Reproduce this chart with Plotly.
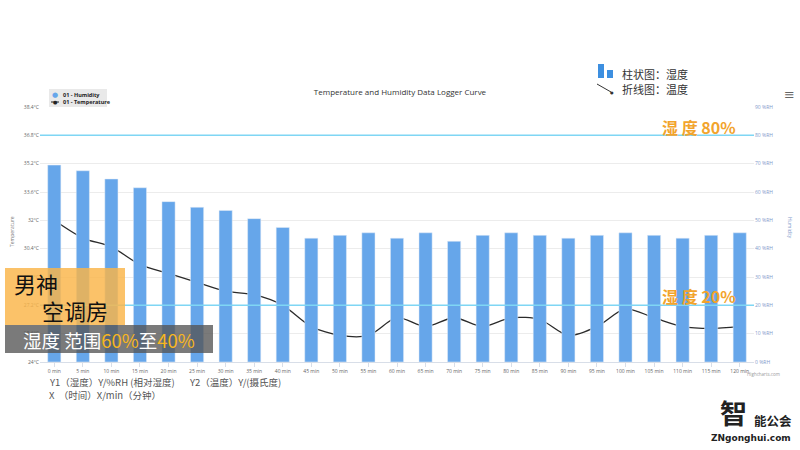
import plotly.graph_objects as go

# ---------------- data ----------------
times = [f"{m} min" for m in range(0, 121, 5)]
humidity = [69.5, 67.5, 64.6, 61.5, 56.6, 54.6, 53.5, 50.6, 47.5, 43.7, 44.7, 45.6, 43.7,
            45.6, 42.6, 44.7, 45.6, 44.7, 43.7, 44.7, 45.6, 44.7, 43.7, 44.7, 45.6]
temperature = [32.0, 31.0, 30.5, 29.5, 29.0, 28.5, 28.0, 27.8, 27.2, 26.0, 25.5, 25.5, 26.5,
               26.0, 26.5, 26.0, 26.5, 26.4, 25.5, 26.0, 27.0, 26.5, 26.0, 25.9, 26.0]
temp_ticks = [24, 25.6, 27.2, 28.8, 30.4, 32, 33.6, 35.2, 36.8, 38.4]
temp_ticktext = ["24°C", "25.6°C", "27.2°C", "28.8°C", "30.4°C", "32°C", "33.6°C", "35.2°C", "36.8°C", "38.4°C"]
hum_ticks = [0, 10, 20, 30, 40, 50, 60, 70, 80, 90]
hum_ticktext = ["0 %RH", "10 %RH", "20 %RH", "30 %RH", "40 %RH", "50 %RH", "60 %RH", "70 %RH", "80 %RH", "90 %RH"]
thresholds = [80, 20]
series_names = ["01 - Humidity", "01 - Temperature"]

# ---------------- layout geometry (pixels) ----------------
W, H = 800, 450
L, R, T, B = 40, 754, 107, 362


def P(x, y):
    """pixel -> paper coords"""
    return (x - L) / (R - L), (B - y) / (B - T)


BAR = "#66a6ea"
ORANGE = "#f2a42c"
CJK = "Noto Sans CJK SC"

fig = go.Figure()
fig.add_trace(go.Bar(x=times, y=humidity, yaxis="y2", marker_color=BAR, width=0.46,
                     name=series_names[0], showlegend=False))
fig.add_trace(go.Scatter(x=times, y=temperature, mode="lines+markers", name=series_names[1],
                         line=dict(color="#2b2b2b", width=1.3, shape="spline", smoothing=0.8),
                         marker=dict(color="#1f2a3a", size=4), showlegend=False))

shapes = []
for th in thresholds:
    shapes.append(dict(type="line", xref="paper", yref="y2", x0=0, x1=1, y0=th, y1=th,
                       line=dict(color="#7fd6f4", width=1.5), layer="above"))


def rect(x0, y0, x1, y1, color, layer="above"):
    a, b = P(x0, y1)
    c, d = P(x1, y0)
    return dict(type="rect", xref="paper", yref="paper", x0=a, y0=b, x1=c, y1=d,
                fillcolor=color, line=dict(width=0), layer=layer)


def seg(x0, y0, x1, y1, color, width=1):
    a, b = P(x0, y0)
    c, d = P(x1, y1)
    return dict(type="line", xref="paper", yref="paper", x0=a, y0=b, x1=c, y1=d,
                line=dict(color=color, width=width))


shapes.append(rect(5, 268, 125, 325, "rgba(250,180,72,0.82)"))
shapes.append(rect(5, 325, 213, 353, "rgba(85,85,85,0.78)"))
# series legend box (top-left)
shapes.append(rect(49, 89, 107, 107, "#e9e9e9"))
shapes.append(seg(51, 102, 59, 102, "#222", 1))
# chinese legend icons
shapes.append(rect(598, 64, 604, 78, "#3d8fe0"))
shapes.append(rect(607, 70, 613, 78, "#3d8fe0"))
shapes.append(seg(597, 84, 611, 92, "#333", 1))

ann = []


def text(x, y, s, size, color="#333", anchor="left", bold=False, angle=0, family=CJK, v="middle"):
    px, py = P(x, y)
    if bold:
        s = f"<b>{s}</b>"
    ann.append(dict(x=px, y=py, xref="paper", yref="paper", text=s, showarrow=False,
                    xanchor=anchor, yanchor=v, textangle=angle,
                    font=dict(size=size, color=color, family=family)))


# series legend entries
text(55, 95, "●", 7, BAR, anchor="center", family="DejaVu Sans")
text(55, 102, "●", 5, "#222", anchor="center", family="DejaVu Sans")
text(61, 95, series_names[0], 5.5, "#222", bold=True, family="Open Sans")
text(61, 102, series_names[1], 5.5, "#222", bold=True, family="Open Sans")

text(620, 74, "柱状图：湿度", 11, "#333")
text(620, 89, "折线图：温度", 11, "#333")
text(612, 92, "●", 4, "#333", anchor="center", family="DejaVu Sans")
text(699, 127, "湿 度 80%", 16, ORANGE, anchor="center", bold=True)
text(699, 296, "湿 度 20%", 16, ORANGE, anchor="center", bold=True)
text(12, 283, "男神", 22, "#111")
text(40, 310, "空调房", 22, "#111")
text(21, 340, "湿度 范围<span style='color:#f7b520'>60%</span>至<span style='color:#f7b520'>40%</span>",
     18.5, "#ffffff")
text(47, 382, "Y1（湿度）Y/%RH (相对湿度)", 9.5, "#555")
text(187, 382, "Y2（温度）Y/(摄氏度)", 9.5, "#555")
text(47, 395, "X  （时间）X/min（分钟）", 9.5, "#555")
text(12, 232, "Temperature", 5, "#777", anchor="center", angle=-90, family="Open Sans")
text(790, 228, "Humidity", 5, "#7f9acb", anchor="center", angle=90, family="Open Sans")
text(789, 95, "≡", 13, "#666", anchor="center", family="DejaVu Sans")
text(782, 374, "Highcharts.com", 4.5, "#999", anchor="right", family="Open Sans")
text(733, 412, "智", 27, "#222", anchor="center", bold=True)
text(752, 420, "能公会", 12.5, "#222", bold=True)
text(751, 438, "ZNgonghui.com", 9, "#222", anchor="center", bold=True, family="DejaVu Sans")

fig.update_layout(
    width=W, height=H, autosize=False,
    margin=dict(l=L, r=W - R, t=T, b=H - B, pad=0),
    paper_bgcolor="white", plot_bgcolor="white",
    showlegend=False,
    title=dict(text="Temperature and Humidity Data Logger Curve", x=0.5, xanchor="center",
               y=(H - 92) / H, yanchor="middle", yref="container",
               font=dict(size=8, color="#333", family="Open Sans")),
    xaxis=dict(type="category", range=[-0.5, 24.5], showgrid=False, showline=True,
               linecolor="#d8dee8", ticks="outside", ticklen=4, tickcolor="#d8dee8",
               tickfont=dict(size=5, color="#666", family="Open Sans"), tickangle=0),
    yaxis=dict(range=[24, 38.4], tickvals=temp_ticks, ticktext=temp_ticktext,
               showgrid=True, gridcolor="#ececec", zeroline=False, showline=False,
               tickfont=dict(size=5, color="#666", family="Open Sans")),
    yaxis2=dict(range=[0, 90], tickvals=hum_ticks, ticktext=hum_ticktext, overlaying="y", side="right",
                showgrid=False, zeroline=False, showline=False,
                tickfont=dict(size=5, color="#7f9acb", family="Open Sans")),
    shapes=shapes, annotations=ann,
)

fig.write_html("out.html", config={"displayModeBar": False},
               post_script="document.body.style.margin='0';document.body.style.padding='0';")
